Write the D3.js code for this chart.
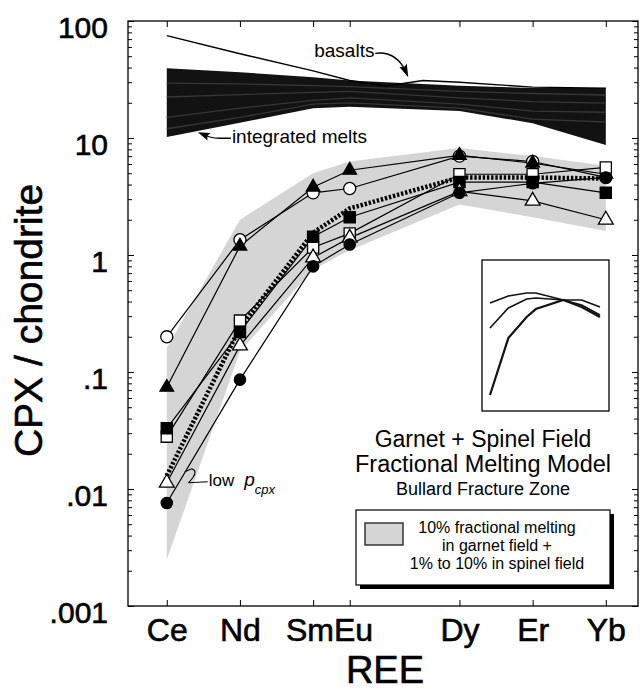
<!DOCTYPE html>
<meta charset="utf-8">
<script src="https://d3js.org/d3.v7.min.js"></script>
<style>
body { margin: 0; background: #fff; }
svg { display: block; font-family: "Liberation Sans", Arial, Helvetica, sans-serif; }
.axis path { display: none; }
.axis line { stroke: #000; stroke-width: 1px; }
.axis text { fill: #000; }
.sample { fill: none; stroke: #000; stroke-width: 1.2px; }
.heavy { stroke: #000; stroke-width: 0.6px; }
</style>
<body></body>
<script>

// REE on the x axis, placed by atomic number
var elements = ["Ce", "Nd", "Sm", "Eu", "Dy", "Er", "Yb"];
var atomicNumbers = [58, 60, 62, 63, 66, 68, 70];

// cpx / chondrite, one array per sample
var openCircle     = [0.2, 1.35, 3.4, 3.7, 7.0, 6.3, 4.6];
var filledTriangle = [0.074, 1.19, 3.8, 5.3, 7.1, 6.1, 4.9];
var openSquare     = [0.028, 0.275, 1.16, 1.53, 4.9, 4.9, 5.6];
var filledSquare   = [0.033, 0.22, 1.43, 2.1, 4.2, 4.2, 3.4];
var openTriangle   = [0.0113, 0.168, 0.95, 1.4, 3.5, 2.9, 2.0];
var filledCircle   = [0.0076, 0.086, 0.80, 1.23, 3.4, 4.1, 4.6];

// low p_cpx model (heavy dotted line)
var lowPcpx = [0.013, 0.24, 1.55, 2.5, 4.6, 4.6, 4.5];

// grey field: 10% fractional melting in garnet + 1-10% in spinel
var fieldUpper = [0.16, 2.0, 5.0, 6.3, 8.2, 7.0, 5.8];
var fieldLower = [0.0025, 0.15, 0.75, 1.1, 2.7, 2.1, 1.6];

// integrated melts (black band) envelope and inner curves
var meltTop    = [39.5, 36.5, 33, 31, 28, 26.8, 26.7];
var meltBottom = [10.2, 13.5, 18, 18.5, 17, 13.4, 8.7];
var meltA = [29.5, 29, 28, 27.5, 25, 24, 23.3];
var meltB = [22.4, 23.5, 24.5, 25, 22, 20.5, 19.9];
var meltC = [15, 18, 21, 22, 19.5, 17, 16.6];
var meltD = [12, 15, 19.5, 20, 18, 14.5, 13.7];

// basalt
var basaltZ      = [58, 60, 62, 63, 64, 65, 66, 68, 70];
var basaltValues = [75, 52.5, 37.5, 31, 27.8, 31, 30, 27.2, 26.7];

// inset: relative patterns
var insetFlat   = [0.715, 0.762, 0.781, 0.781, 0.735, 0.735, 0.689];
var insetMid    = [0.550, 0.682, 0.742, 0.748, 0.735, 0.702, 0.636];
var insetSteep  = [0.106, 0.483, 0.623, 0.675, 0.735, 0.689, 0.623];

var yTickValues = [100, 10, 1, 0.1, 0.01, 0.001];
var yTickLabels = ["100", "10", "1", ".1", ".01", ".001"];

var width = 640, height = 692;
var margin = {top: 21, right: 2, bottom: 86, left: 128};
var plotW = width - margin.left - margin.right,
    plotH = height - margin.top - margin.bottom;

var svg = d3.select("body").append("svg")
    .attr("width", width)
    .attr("height", height);

var xScale = d3.scaleLinear()
    .domain([56.94, 70.88])
    .range([margin.left, margin.left + plotW]);

var yScale = d3.scaleLog()
    .domain([0.001, 100])
    .range([margin.top + plotH, margin.top]);

function pts(values) {
    return values.map(function(v, i) { return [atomicNumbers[i], v]; });
}

var line = d3.line()
    .x(function(d) { return xScale(d[0]); })
    .y(function(d) { return yScale(d[1]); });

function bandArea(upper, lower) {
    return d3.area()
        .x(function(d, i) { return xScale(atomicNumbers[i]); })
        .y0(function(d, i) { return yScale(lower[i]); })
        .y1(function(d, i) { return yScale(upper[i]); })(upper);
}

// grey field
svg.append("path")
    .attr("d", bandArea(fieldUpper, fieldLower))
    .attr("fill", "#d5d5d5");

// integrated melts band
svg.append("path")
    .attr("d", bandArea(meltTop, meltBottom))
    .attr("fill", "#121212");

[meltA, meltB, meltC, meltD].forEach(function(m) {
    svg.append("path")
        .attr("d", line(pts(m)))
        .attr("fill", "none")
        .attr("stroke", "#363636")
        .attr("stroke-width", 1.3);
});

// basalt
svg.append("path")
    .attr("d", line(basaltZ.map(function(z, i) { return [z, basaltValues[i]]; })))
    .attr("fill", "none")
    .attr("stroke", "#000")
    .attr("stroke-width", 1.4);

// samples
var samples = [
    {values: openCircle,     type: d3.symbolCircle,   size: 115, filled: false},
    {values: filledTriangle, type: d3.symbolTriangle, size: 80,  filled: true},
    {values: openSquare,     type: d3.symbolSquare,   size: 125, filled: false},
    {values: filledSquare,   type: d3.symbolSquare,   size: 125, filled: true},
    {values: openTriangle,   type: d3.symbolTriangle, size: 95,  filled: false},
    {values: filledCircle,   type: d3.symbolCircle,   size: 100, filled: true}
];

samples.forEach(function(s) {
    svg.append("path")
        .attr("class", "sample")
        .attr("d", line(pts(s.values)));
});

svg.append("path")
    .attr("d", line(pts(lowPcpx)))
    .attr("fill", "none")
    .attr("stroke", "#000")
    .attr("stroke-width", 4.5)
    .attr("stroke-dasharray", "2.4,1.8");

samples.forEach(function(s) {
    svg.selectAll(null)
        .data(pts(s.values))
        .enter()
        .append("path")
        .attr("transform", function(d) { return "translate(" + xScale(d[0]) + "," + yScale(d[1]) + ")"; })
        .attr("d", d3.symbol().type(s.type).size(s.size))
        .attr("fill", s.filled ? "#000" : "#fff")
        .attr("stroke", "#000")
        .attr("stroke-width", 1.3);
});

// frame
svg.append("rect")
    .attr("x", margin.left)
    .attr("y", margin.top)
    .attr("width", plotW)
    .attr("height", plotH)
    .attr("fill", "none")
    .attr("stroke", "#000")
    .attr("stroke-width", 1.3);

// axes
var minorTicks = [];
yTickValues.forEach(function(v) {
    if (v < 100) for (var k = 2; k < 10; k++) minorTicks.push(v * k);
});

var yAxis = d3.axisLeft(yScale)
    .tickValues(yTickValues)
    .tickFormat(function(d, i) { return yTickLabels[i]; })
    .tickSize(-6)
    .tickPadding(20);

var yAxisGroup = svg.append("g")
    .attr("class", "y axis")
    .attr("transform", "translate(" + margin.left + ",0)")
    .call(yAxis);

yAxisGroup.selectAll("text")
    .attr("class", "heavy")
    .attr("font-size", 30)
    .attr("dy", "0.55em");

svg.append("g")
    .attr("class", "axis")
    .attr("transform", "translate(" + margin.left + ",0)")
    .call(d3.axisLeft(yScale).tickValues(minorTicks).tickFormat("").tickSize(-4));

svg.append("g")
    .attr("class", "axis")
    .attr("transform", "translate(" + (margin.left + plotW) + ",0)")
    .call(d3.axisRight(yScale).tickValues(yTickValues).tickFormat("").tickSize(-6));

svg.append("g")
    .attr("class", "axis")
    .attr("transform", "translate(" + (margin.left + plotW) + ",0)")
    .call(d3.axisRight(yScale).tickValues(minorTicks).tickFormat("").tickSize(-4));

var xAxis = d3.axisBottom(xScale)
    .tickValues(atomicNumbers)
    .tickFormat(function(d, i) { return elements[i]; })
    .tickSize(-6)
    .tickPadding(12);

var xAxisGroup = svg.append("g")
    .attr("class", "x axis")
    .attr("transform", "translate(0," + (margin.top + plotH) + ")")
    .call(xAxis);

xAxisGroup.selectAll("text")
    .attr("class", "heavy")
    .attr("font-size", 32)
    .each(function(d, i) {
        // Sm and Eu are run together as "SmEu"
        var mid = (xScale(62) + xScale(63)) / 2;
        if (elements[i] === "Sm") d3.select(this).attr("text-anchor", "end").attr("x", mid - xScale(62) + 2);
        if (elements[i] === "Eu") d3.select(this).attr("text-anchor", "start").attr("x", mid - xScale(63) + 2);
    });

svg.append("g")
    .attr("class", "axis")
    .attr("transform", "translate(0," + margin.top + ")")
    .call(d3.axisTop(xScale).tickValues(atomicNumbers).tickFormat("").tickSize(-6));

// axis titles
svg.append("text")
    .attr("class", "heavy")
    .attr("transform", "translate(42," + (margin.top + plotH / 2 + 7) + ") rotate(-90)")
    .attr("text-anchor", "middle")
    .attr("font-size", 39)
    .text("CPX / chondrite");

svg.append("text")
    .attr("class", "heavy")
    .attr("x", 385)
    .attr("y", 683)
    .attr("text-anchor", "middle")
    .attr("font-size", 38)
    .text("REE");

// annotations
function arrowHead(tip, from, len, half) {
    var dx = tip[0] - from[0], dy = tip[1] - from[1];
    var d = Math.sqrt(dx * dx + dy * dy);
    var ux = dx / d, uy = dy / d;
    var bx = tip[0] - ux * len, by = tip[1] - uy * len;
    return "M" + tip[0] + "," + tip[1] +
        "L" + (bx - uy * half) + "," + (by + ux * half) +
        "L" + (bx + ux * 2) + "," + (by + uy * 2) +
        "L" + (bx + uy * half) + "," + (by - ux * half) + "Z";
}

var basaltTip = [xScale(64.6), yScale(33)];
svg.append("text")
    .attr("x", basaltTip[0] - 94)
    .attr("y", basaltTip[1] - 20)
    .attr("font-size", 19)
    .text("basalts");
svg.append("path")
    .attr("d", "M" + (basaltTip[0] - 33) + "," + (basaltTip[1] - 24) +
        " C" + (basaltTip[0] - 18) + "," + (basaltTip[1] - 26) + " " +
        (basaltTip[0] - 8) + "," + (basaltTip[1] - 18) + " " +
        (basaltTip[0] - 2) + "," + (basaltTip[1] - 5))
    .attr("fill", "none")
    .attr("stroke", "#000")
    .attr("stroke-width", 1.3);
svg.append("path")
    .attr("d", arrowHead(basaltTip, [basaltTip[0] - 6, basaltTip[1] - 14], 13, 4))
    .attr("fill", "#000");

var meltTip = [xScale(58.85), yScale(11.2)];
svg.append("text")
    .attr("x", meltTip[0] + 34)
    .attr("y", meltTip[1] + 11)
    .attr("font-size", 19)
    .text("integrated melts");
svg.append("path")
    .attr("d", "M" + (meltTip[0] + 33) + "," + (meltTip[1] + 6) +
        " L" + (meltTip[0] + 22) + "," + (meltTip[1] + 6) +
        " C" + (meltTip[0] + 12) + "," + (meltTip[1] + 6) + " " +
        (meltTip[0] + 6) + "," + (meltTip[1] + 3) + " " +
        (meltTip[0] + 2) + "," + (meltTip[1] + 1))
    .attr("fill", "none")
    .attr("stroke", "#000")
    .attr("stroke-width", 1.3);
svg.append("path")
    .attr("d", arrowHead(meltTip, [meltTip[0] + 10, meltTip[1] + 4], 12, 4))
    .attr("fill", "#000");

// low p_cpx label
var lowAt = [xScale(58) + 20, yScale(0.012)];
svg.append("path")
    .attr("d", "M" + (lowAt[0] - 2) + "," + (lowAt[1] - 8) +
        " L" + (lowAt[0] + 5) + "," + (lowAt[1] - 11) +
        " Q" + (lowAt[0] + 11) + "," + (lowAt[1] - 9) + " " + (lowAt[0] + 6) + "," + (lowAt[1] - 2) +
        " L" + (lowAt[0] + 2) + "," + (lowAt[1] + 3) +
        " L" + (lowAt[0] + 21) + "," + (lowAt[1] + 2))
    .attr("fill", "none")
    .attr("stroke", "#000")
    .attr("stroke-width", 1.1);
var lowText = svg.append("text")
    .attr("x", lowAt[0] + 22)
    .attr("y", lowAt[1] + 6)
    .attr("font-size", 17);
lowText.append("tspan").text("low");
lowText.append("tspan").attr("dx", 10).attr("font-style", "italic").attr("font-size", 19).text("p");
lowText.append("tspan").attr("dy", 8).attr("font-style", "italic").attr("font-size", 13).text("cpx");

// inset
var insetBox = {x: 482, y: 260, w: 127, h: 151};
svg.append("rect")
    .attr("x", insetBox.x)
    .attr("y", insetBox.y)
    .attr("width", insetBox.w)
    .attr("height", insetBox.h)
    .attr("fill", "#fff")
    .attr("stroke", "#000")
    .attr("stroke-width", 1.3);

var insetX = d3.scaleLinear().domain([58, 70]).range([insetBox.x + 8, insetBox.x + 118]);
var insetY = d3.scaleLinear().domain([0, 1]).range([insetBox.y + insetBox.h, insetBox.y]);
var insetLine = d3.line()
    .x(function(d, i) { return insetX(atomicNumbers[i]); })
    .y(function(d) { return insetY(d); });

[[insetFlat, 1.6], [insetMid, 1.6], [insetSteep, 2.2]].forEach(function(c) {
    svg.append("path")
        .attr("d", insetLine(c[0]))
        .attr("fill", "none")
        .attr("stroke", "#111")
        .attr("stroke-width", c[1]);
});

// model title
var titleX = 483;
svg.append("text").attr("x", titleX).attr("y", 447).attr("text-anchor", "middle")
    .attr("font-size", 23).text("Garnet + Spinel Field");
svg.append("text").attr("x", titleX).attr("y", 472).attr("text-anchor", "middle")
    .attr("font-size", 23.5).text("Fractional Melting Model");
svg.append("text").attr("x", titleX).attr("y", 495).attr("text-anchor", "middle")
    .attr("font-size", 18).text("Bullard Fracture Zone");

// legend
var legend = {x: 356, y: 510, w: 254, h: 75};
svg.append("rect")
    .attr("x", legend.x + 4).attr("y", legend.y + 4)
    .attr("width", legend.w).attr("height", legend.h)
    .attr("fill", "#000");
svg.append("rect")
    .attr("x", legend.x).attr("y", legend.y)
    .attr("width", legend.w).attr("height", legend.h)
    .attr("fill", "#fff").attr("stroke", "#000").attr("stroke-width", 1.2);
svg.append("rect")
    .attr("x", legend.x + 9).attr("y", legend.y + 13)
    .attr("width", 38).attr("height", 22)
    .attr("fill", "#d5d5d5").attr("stroke", "#333").attr("stroke-width", 1.5);

var legendLines = ["10% fractional melting", "in garnet field +", "1% to 10% in spinel field"];
svg.selectAll(".legendText")
    .data(legendLines)
    .enter()
    .append("text")
    .attr("class", "legendText")
    .attr("x", legend.x + 141)
    .attr("y", function(d, i) { return legend.y + 23 + i * 18; })
    .attr("text-anchor", "middle")
    .attr("font-size", 16)
    .text(function(d) { return d; });

</script>
